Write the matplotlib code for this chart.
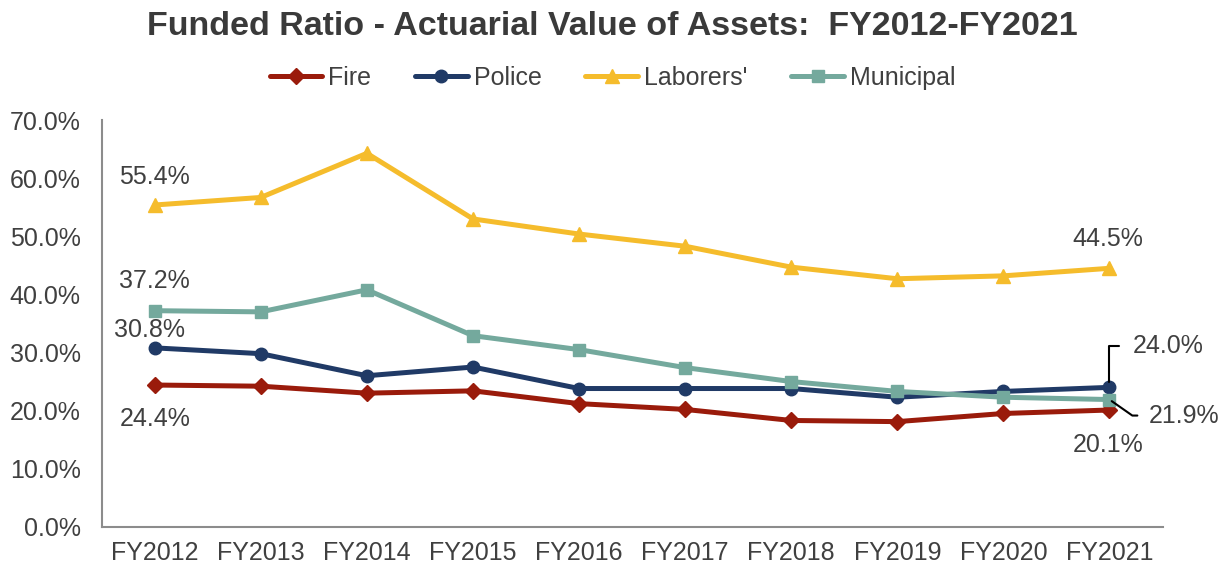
import matplotlib.pyplot as plt
from matplotlib.ticker import FuncFormatter

plt.rcParams['font.family'] = ['Liberation Sans', 'DejaVu Sans']

years = ['FY2012', 'FY2013', 'FY2014', 'FY2015', 'FY2016',
         'FY2017', 'FY2018', 'FY2019', 'FY2020', 'FY2021']
fire = [24.4, 24.2, 23.0, 23.4, 21.2, 20.2, 18.3, 18.1, 19.5, 20.1]
police = [30.8, 29.8, 26.0, 27.5, 23.8, 23.8, 23.8, 22.3, 23.3, 24.0]
laborers = [55.4, 56.7, 64.3, 53.0, 50.4, 48.3, 44.7, 42.7, 43.2, 44.5]
municipal = [37.2, 37.0, 40.8, 32.9, 30.5, 27.4, 25.0, 23.3, 22.3, 21.9]

series = [('Fire', fire, '#9A1B0B', 'D', 8),
          ('Police', police, '#203A66', 'o', 9),
          ("Laborers'", laborers, '#F5BC2C', '^', 10),
          ('Municipal', municipal, '#74A99D', 's', 9)]

PX = 0.72  # points per pixel at 100 dpi

fig = plt.figure(figsize=(12.25, 5.67), dpi=100)
ax = fig.add_axes([0.083, 0.071, 0.866, 0.717])
x = list(range(len(years)))
for name, vals, col, mk, ms in series:
    ax.plot(x, vals, color=col, lw=3.6, marker=mk, ms=ms, label=name,
            solid_capstyle='round')

ax.set_xlim(-0.5, len(years) - 0.5)
ax.set_ylim(0, 70)
ax.set_yticks(range(0, 71, 10))
ax.yaxis.set_major_formatter(FuncFormatter(lambda v, p: f'{v:.1f}%'))
ax.set_xticks(x)
ax.set_xticklabels(years)
ax.tick_params(axis='both', length=0, labelsize=18, colors='#404040')
ax.tick_params(axis='y', pad=15)
ax.tick_params(axis='x', pad=10)
for s in ['top', 'right']:
    ax.spines[s].set_visible(False)
for s in ['left', 'bottom']:
    ax.spines[s].set_color('#8c8c8c')
    ax.spines[s].set_linewidth(1.5)

lab = dict(fontsize=18, color='#404040', ha='center', va='center', textcoords='offset points')
ax.annotate(f'{laborers[0]:.1f}%', (0, laborers[0]), xytext=(0, 28 * PX), **lab)
ax.annotate(f'{municipal[0]:.1f}%', (0, municipal[0]), xytext=(0, 30 * PX), **lab)
ax.annotate(f'{police[0]:.1f}%', (0, police[0]), xytext=(-5 * PX, 18 * PX), **lab)
ax.annotate(f'{fire[0]:.1f}%', (0, fire[0]), xytext=(0, -34 * PX), **lab)
ax.annotate(f'{laborers[-1]:.1f}%', (9, laborers[-1]), xytext=(-2 * PX, 29 * PX), **lab)
ax.annotate(f'{fire[-1]:.1f}%', (9, fire[-1]), xytext=(-1 * PX, -35 * PX), **lab)
ax.annotate(f'{police[-1]:.1f}%', (9, police[-1]), xytext=(23 * PX, 41 * PX), textcoords='offset points',
            ha='left', va='center', fontsize=18, color='#404040',
            arrowprops=dict(arrowstyle='-', color='black', lw=1.5,
                            connectionstyle='angle,angleA=0,angleB=90,rad=0',
                            shrinkA=8, shrinkB=4))
ax.annotate(f'{municipal[-1]:.1f}%', (9, municipal[-1]), xytext=(39 * PX, -16 * PX), textcoords='offset points',
            ha='left', va='center', fontsize=18, color='#404040',
            arrowprops=dict(arrowstyle='-', color='black', lw=1.5,
                            connectionstyle='angle,angleA=0,angleB=-35,rad=0',
                            shrinkA=6, shrinkB=2))

fig.suptitle('Funded Ratio - Actuarial Value of Assets:  FY2012-FY2021',
             fontsize=24.5, fontweight='bold', color='#3a3a3a', y=0.98)
fig.legend(loc='center', bbox_to_anchor=(0.5, 0.862), ncol=4, frameon=False,
           fontsize=18, handlelength=2.1, handletextpad=0.25, columnspacing=1.75,
           labelcolor='#404040')

fig.savefig('out.png', dpi=100)
